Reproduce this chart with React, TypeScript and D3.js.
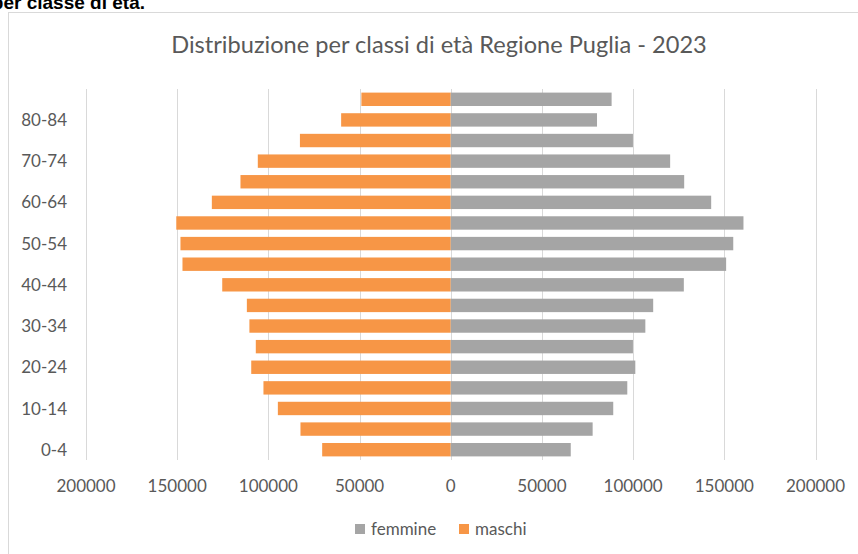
import React from "react";
import * as d3 from "d3";

// Age classes, bottom to top
const ageClasses = [
  "0-4", "5-9", "10-14", "15-19", "20-24", "25-29", "30-34", "35-39", "40-44",
  "45-49", "50-54", "55-59", "60-64", "65-69", "70-74", "75-79", "80-84", "85+",
];

const maschi = [
  70500, 82400, 94800, 102700, 109400, 106900, 110400, 111800, 125300,
  147100, 148200, 150500, 131000, 115300, 105800, 82700, 60100, 49000,
];

const femmine = [
  65800, 77800, 89100, 96800, 101200, 99900, 106700, 111000, 127800,
  151000, 154900, 160500, 142800, 128000, 120300, 99900, 80200, 88200,
];

const xTicks = [-200000, -150000, -100000, -50000, 0, 50000, 100000, 150000, 200000];

const FONT = "Lato, 'Liberation Sans', sans-serif";
const TEXT = "#595959";
const GRID = "#d9d9d9";
const ORANGE = "#f79646";
const GREY = "#a5a5a5";

const App: React.FC = () => {
  const width = 858;
  const height = 554;

  const x = d3.scaleLinear().domain([-200000, 200000]).range([86, 815.5]);
  const y = d3
    .scaleBand<string>()
    .domain([...ageClasses].reverse())
    .range([89, 460])
    .paddingInner(0.35)
    .paddingOuter(0.175);

  return (
    <div style={{ position: "absolute", left: 0, top: 0 }}>
      <svg width={width} height={height} style={{ display: "block", background: "#fff" }}>
        {/* heading of the surrounding document, cut off at the top as in the source */}
        <text x={145} y={9} textAnchor="end" fontFamily="'Liberation Sans', Arial, sans-serif"
          fontWeight="bold" fontSize={19} fill="#000">
          per classe di età.
        </text>

        {/* chart frame */}
        <rect x={8.5} y={12.5} width={860} height={560} fill="#fff" stroke={GRID} strokeWidth={1} />

        <text x={439} y={53} textAnchor="middle" fontFamily={FONT} fontSize={23.6} fill={TEXT}>
          Distribuzione per classi di età Regione Puglia - 2023
        </text>

        {/* gridlines */}
        {xTicks.map((t) => (
          <line key={t} x1={Math.round(x(t)) + 0.5} x2={Math.round(x(t)) + 0.5} y1={89} y2={460}
            stroke={GRID} strokeWidth={1} />
        ))}

        {/* bars */}
        {ageClasses.map((a, i) => (
          <g key={a}>
            <rect x={x(-maschi[i])} y={y(a)} width={x(0) - x(-maschi[i])} height={y.bandwidth()} fill={ORANGE} />
            <rect x={x(0)} y={y(a)} width={x(femmine[i]) - x(0)} height={y.bandwidth()} fill={GREY} />
          </g>
        ))}

        {/* y labels, every other class */}
        {ageClasses.map((a, i) =>
          i % 2 === 0 ? (
            <text key={a} x={67} y={(y(a) as number) + y.bandwidth() / 2} dy="0.36em" textAnchor="end"
              fontFamily={FONT} fontSize={17} fill={TEXT}>
              {a}
            </text>
          ) : null
        )}

        {/* x tick labels */}
        {xTicks.map((t) => (
          <text key={t} x={x(t)} y={492} textAnchor="middle" fontFamily={FONT} fontSize={17} fill={TEXT}>
            {Math.abs(t)}
          </text>
        ))}

        {/* legend */}
        <rect x={355} y={524} width={10} height={10} fill={GREY} />
        <text x={371} y={535} fontFamily={FONT} fontSize={17} fill={TEXT}>femmine</text>
        <rect x={459} y={524} width={10} height={10} fill={ORANGE} />
        <text x={475} y={535} fontFamily={FONT} fontSize={17} fill={TEXT}>maschi</text>
      </svg>
    </div>
  );
};

export default App;
